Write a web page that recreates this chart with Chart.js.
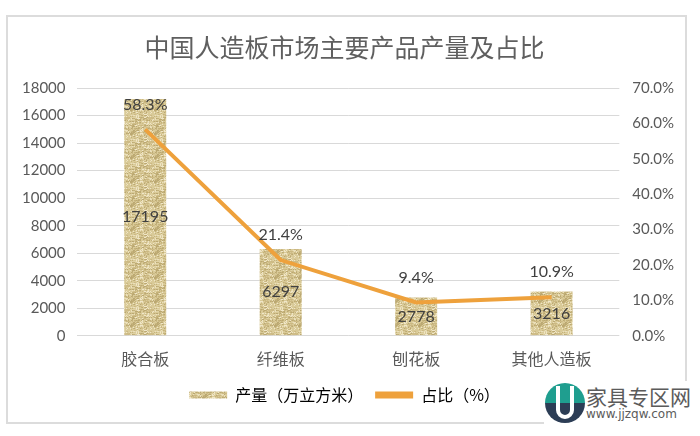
<!DOCTYPE html>
<html>
<head>
<meta charset="utf-8">
<script src="https://cdn.jsdelivr.net/npm/chart.js@4.4.1/dist/chart.umd.min.js"></script>
<style>
  body { margin: 0; background: #fff; }
  #wrap { position: relative; width: 700px; height: 436px; }
  #frame { position: absolute; left: 6px; top: 15px; width: 677px; height: 405px; border: 2px solid #dcdcdc; pointer-events: none; }
  #mark { position: absolute; left: 544px; top: 381px; width: 150px; height: 44px; background: #fff; }
  #mark .t1 { position: absolute; left: 42px; top: 0px; font: 21px "Noto Sans CJK SC"; color: #5b5b5b; white-space: nowrap; }
  #mark .t2 { position: absolute; left: 42px; top: 26px; font: 12px "DejaVu Sans"; color: #5b5b5b; white-space: nowrap; }
</style>
</head>
<body>
<div id="wrap">
  <canvas id="chart" width="700" height="436"></canvas>
  <div id="frame"></div>
  <div id="mark">
    <svg width="42" height="42" viewBox="0 0 42 42" style="position:absolute;left:0;top:1px">
      <path d="M1,21 A20,20 0 0 1 41,21 Z" fill="#1f9e8f"/>
      <path d="M1,21 A20,20 0 0 0 41,21 Z" fill="#2c3d55"/>
      <path d="M14,4 L14,28 A7,7 0 0 0 28,28 L28,4" fill="none" stroke="#fff" stroke-width="4"/>
    </svg>
    <div class="t1">家具专区网</div>
    <div class="t2">www.jjzqw.com</div>
  </div>
</div>
<script>
// data
var categories = ['胶合板', '纤维板', '刨花板', '其他人造板'];
var output = [17195, 6297, 2778, 3216];      // 产量（万立方米）
var share = [58.3, 21.4, 9.4, 10.9];          // 占比（%）
var leftTicks = [0, 18000, 2000];
var rightTicks = [0, 70, 10];

var numFont = 'Lato, "Noto Sans CJK SC", sans-serif';
var cjkFont = '"Noto Sans CJK SC", sans-serif';

// speckled beige texture for the bars
function makeTexture() {
    var n = 24;
    var c = document.createElement('canvas');
    c.width = n; c.height = n;
    var g = c.getContext('2d');
    g.fillStyle = '#d9ca98';
    g.fillRect(0, 0, n, n);
    var cols = ['#c4b27a', '#ebe0bc', '#cfbd88', '#f0e6c8', '#bba872', '#e0d2a4', '#cbb882'];
    var s = 12345;
    for (var y = 0; y < n; y++) {
        for (var x = 0; x < n; x++) {
            s = (s * 1103515245 + 12345) & 0x7fffffff;
            var h = (s >> 8) % 12;
            if (h < cols.length) {
                g.fillStyle = cols[h];
                g.fillRect(x, y, 1, 1);
            }
        }
    }
    return g.createPattern(c, 'repeat');
}
var texture = makeTexture();

// value labels
var labelPlugin = {
    id: 'labels',
    afterDatasetsDraw: function (chart) {
        var ctx = chart.ctx;
        ctx.save();
        ctx.font = '16px ' + numFont;
        ctx.fillStyle = '#404040';
        ctx.textAlign = 'center';
        ctx.textBaseline = 'middle';
        chart.getDatasetMeta(1).data.forEach(function (bar, i) {
            ctx.fillText(output[i], bar.x, (bar.y + bar.base) / 2);
        });
        chart.getDatasetMeta(0).data.forEach(function (pt, i) {
            ctx.fillText(share[i].toFixed(1) + '%', pt.x, pt.y - 25);
        });
        ctx.restore();
    }
};

var ctx = document.getElementById('chart').getContext('2d');
var chart = new Chart(ctx, {
    type: 'bar',
    data: {
        labels: categories,
        datasets: [{
            type: 'line',
            label: '占比（%）',
            data: share,
            yAxisID: 'y1',
            borderColor: '#eea13c',
            backgroundColor: '#eea13c',
            borderWidth: 4,
            pointRadius: 0,
            tension: 0,
            order: 0
        }, {
            label: '产量（万立方米）',
            data: output,
            yAxisID: 'y',
            backgroundColor: texture,
            categoryPercentage: 1,
            barPercentage: 0.31,
            order: 1
        }]
    },
    options: {
        responsive: false,
        animation: false,
        layout: { padding: { left: 10, right: 21, top: 0, bottom: 23 } },
        plugins: {
            title: {
                display: true,
                text: '中国人造板市场主要产品产量及占比',
                color: '#5f5f5f',
                font: { family: cjkFont, size: 25, weight: 'normal' },
                padding: { top: 32, bottom: 26 }
            },
            legend: {
                position: 'bottom',
                labels: {
                    color: '#595959',
                    font: { family: cjkFont, size: 16 },
                    boxWidth: 38,
                    boxHeight: 7,
                    padding: 12,
                    generateLabels: function (chart) {
                        var ds = chart.data.datasets;
                        return [
                            { text: ds[1].label, fillStyle: texture, strokeStyle: texture, lineWidth: 0, datasetIndex: 1 },
                            { text: ds[0].label, fillStyle: '#eea13c', strokeStyle: '#eea13c', lineWidth: 0, datasetIndex: 0 }
                        ];
                    }
                }
            },
            tooltip: { enabled: false }
        },
        scales: {
            x: {
                grid: { display: false },
                border: { display: false },
                ticks: { color: '#595959', font: { family: cjkFont, size: 16 }, padding: 6 }
            },
            y: {
                position: 'left',
                min: leftTicks[0],
                max: leftTicks[1],
                ticks: {
                    stepSize: leftTicks[2], color: '#595959', font: { family: numFont, size: 15 }, padding: 12,
                    callback: function (v) { return String(v); }
                },
                grid: { color: '#d9d9d9', lineWidth: 1, drawTicks: false },
                border: { display: false }
            },
            y1: {
                position: 'right',
                min: rightTicks[0],
                max: rightTicks[1],
                ticks: {
                    stepSize: rightTicks[2], color: '#595959', font: { family: numFont, size: 15 }, padding: 5,
                    callback: function (v) { return v.toFixed(1) + '%'; }
                },
                grid: { display: false },
                border: { display: false }
            }
        }
    },
    plugins: [labelPlugin]
});
</script>
</body>
</html>
